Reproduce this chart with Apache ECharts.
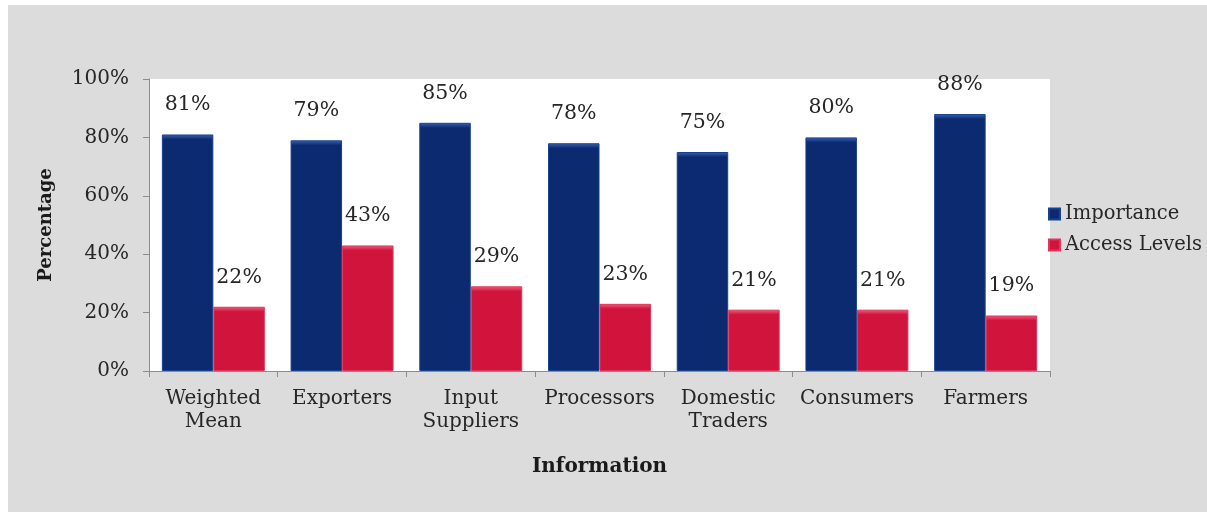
<!DOCTYPE html>
<html>
<head>
<meta charset="utf-8">
<script src="https://cdn.jsdelivr.net/npm/echarts@6/dist/echarts.min.js"></script>
<style>
  html, body { margin: 0; padding: 0; background: #ffffff; width: 1207px; height: 512px; overflow: hidden; }
  #chart { position: absolute; left: 8px; top: 5px; width: 1199px; height: 507px; background: #dcdcdc; }
</style>
</head>
<body>
<div id="chart"></div>
<script>
// Stakeholder groups along the x axis
const categories = ['Weighted\nMean', 'Exporters', 'Input\nSuppliers', 'Processors', 'Domestic\nTraders', 'Consumers', 'Farmers'];
// Share of respondents (%)
const importance = [81, 79, 85, 78, 75, 80, 88];
const accessLevels = [22, 43, 29, 23, 21, 21, 19];
// Y axis ticks (%)
const yTicks = [0, 20, 40, 60, 80, 100];

const FONT = 'DejaVu Serif';
const chart = echarts.init(document.getElementById('chart'), null, { renderer: 'canvas' });

const labelStyle = {
  show: true, position: 'top', distance: 19,
  formatter: p => p.value + '%',
  fontFamily: FONT, fontSize: 20.5, color: '#262626'
};

const option = {
  backgroundColor: 'transparent',
  animation: false,
  grid: {
    left: 141, right: 157, top: 74, bottom: 141,
    show: true, backgroundColor: '#ffffff', borderWidth: 0
  },
  legend: {
    orient: 'vertical', left: 1035, top: 194,
    itemWidth: 11, itemHeight: 11, itemGap: 11,
    icon: 'rect',
    textStyle: { fontFamily: FONT, fontSize: 19.5, color: '#262626' },
    data: ['Importance', 'Access Levels']
  },
  xAxis: {
    type: 'category', data: categories,
    name: 'Information', nameLocation: 'middle', nameGap: 86,
    nameTextStyle: { fontFamily: FONT, fontSize: 20, fontWeight: 'bold', color: '#1a1a1a' },
    axisLine: { show: true, lineStyle: { color: '#8c8c8c', width: 1 } },
    axisTick: { show: true, length: 6, alignWithLabel: false, lineStyle: { color: '#8c8c8c' } },
    axisLabel: { interval: 0, margin: 16, fontFamily: FONT, fontSize: 20, lineHeight: 23, color: '#262626' }
  },
  yAxis: {
    type: 'value', min: yTicks[0], max: yTicks[yTicks.length - 1], interval: 20,
    name: 'Percentage', nameLocation: 'middle', nameGap: 94, nameRotate: 90,
    nameTextStyle: { fontFamily: FONT, fontSize: 18, fontWeight: 'bold', color: '#1a1a1a' },
    axisLine: { show: true, lineStyle: { color: '#8c8c8c', width: 1 } },
    axisTick: { show: true, length: 6, lineStyle: { color: '#8c8c8c' } },
    splitLine: { show: false },
    axisLabel: { margin: 20, formatter: v => v + '%', fontFamily: FONT, fontSize: 20, color: '#262626' }
  },
  series: [
    {
      name: 'Importance', type: 'bar', data: importance,
      barWidth: '40%', barGap: '0%',
      itemStyle: { color: '#0c2a70', borderColor: '#17408f', borderWidth: 1 },
      label: labelStyle
    },
    {
      name: 'Access Levels', type: 'bar', data: accessLevels,
      barWidth: '40%', barGap: '0%',
      itemStyle: { color: '#d0143c', borderColor: '#e0345a', borderWidth: 1 },
      label: labelStyle
    }
  ]
};

chart.setOption(option);

// Add a light rim at the top of each bar, sized in pixels from the axis scale
function rimmed(values, body, rim) {
  const base = chart.convertToPixel({ yAxisIndex: 0 }, 0);
  return values.map(v => {
    const h = base - chart.convertToPixel({ yAxisIndex: 0 }, v);
    const f = h > 0 ? 5 / h : 0.1;
    return {
      value: v,
      itemStyle: {
        color: {
          type: 'linear', x: 0, y: 0, x2: 0, y2: 1,
          colorStops: [
            { offset: 0, color: rim },
            { offset: Math.min(f, 0.5), color: body },
            { offset: 1, color: body }
          ]
        }
      }
    };
  });
}

chart.setOption({
  series: [
    { data: rimmed(importance, '#0c2a70', '#3a64b4') },
    { data: rimmed(accessLevels, '#d0143c', '#f06080') }
  ]
});
</script>
</body>
</html>
